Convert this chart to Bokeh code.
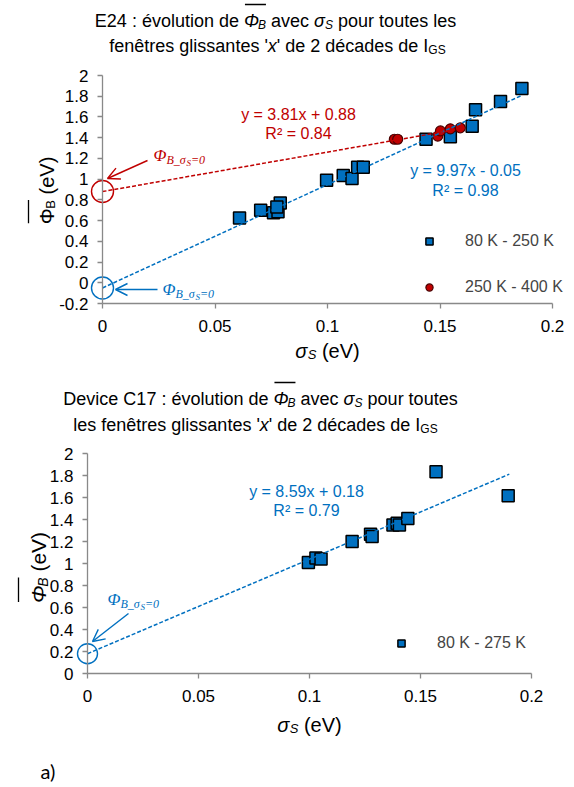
import math
from bokeh.plotting import figure
from bokeh.models import (Range1d, Label, Arrow, OpenHead, Legend, LegendItem,
                          FixedTicker, CustomJSTickFormatter)
from bokeh.layouts import column
from bokeh.embed import file_html
from bokeh.resources import INLINE

# ---------------- data ----------------
# E24, windows 80 K - 250 K
e24_low_sigma = [0.0609, 0.0703, 0.0760, 0.0780, 0.0790, 0.0775, 0.0996, 0.1070, 0.1109,
                 0.1134, 0.1159, 0.1438, 0.1546, 0.1643, 0.1658, 0.1769, 0.1864]
e24_low_phi = [0.625, 0.70, 0.675, 0.685, 0.77, 0.73, 0.99, 1.035, 1.005,
               1.115, 1.115, 1.385, 1.41, 1.51, 1.67, 1.75, 1.875]
# E24, windows 250 K - 400 K
e24_high_sigma = [0.1297, 0.1312, 0.1490, 0.1502, 0.1546, 0.1590]
e24_high_phi = [1.385, 1.385, 1.415, 1.465, 1.485, 1.495]
# Device C17, windows 80 K - 275 K
c17_sigma = [0.0995, 0.1029, 0.1052, 0.1192, 0.1275, 0.1282, 0.1376, 0.1395, 0.1405,
             0.1443, 0.1570, 0.1895]
c17_phi = [1.01, 1.05, 1.04, 1.20, 1.265, 1.245, 1.35, 1.365, 1.35,
           1.41, 1.835, 1.615]

# linear fits (as printed on the chart) and trendline extents
fit_low_slope, fit_low_icpt, fit_low_r2, fit_low_xmax = 9.97, -0.05, 0.98, 0.186
fit_high_slope, fit_high_icpt, fit_high_r2, fit_high_xmax = 3.81, 0.88, 0.84, 0.161
fit_c17_slope, fit_c17_icpt, fit_c17_r2, fit_c17_xmax = 8.59, 0.18, 0.79, 0.190

x_ticks = [0, 0.05, 0.1, 0.15, 0.2]
x_tick_labels = ["0", "0.05", "0.1", "0.15", "0.2"]
y1_ticks = [-0.2, 0, 0.2, 0.4, 0.6, 0.8, 1, 1.2, 1.4, 1.6, 1.8, 2]
y1_tick_labels = ["-0.2", "0", "0.2", "0.4", "0.6", "0.8", "1", "1.2", "1.4", "1.6", "1.8", "2"]
y2_ticks = [0, 0.2, 0.4, 0.6, 0.8, 1, 1.2, 1.4, 1.6, 1.8, 2]
y2_tick_labels = ["0", "0.2", "0.4", "0.6", "0.8", "1", "1.2", "1.4", "1.6", "1.8", "2"]

legend_low = "80 K - 250 K"
legend_high = "250 K - 400 K"
legend_c17 = "80 K - 275 K"

# ---------------- style / geometry ----------------
RED = "#C00000"
BLUE = "#0070C0"
AXIS = "#898989"
SANS = "Liberation Sans"
SERIF = "Liberation Serif"

W = 574
H1, H2 = 372, 415


class Geom:
    def __init__(self, left, right, top, bottom, yoff, H, xr, yr):
        self.left, self.right, self.top, self.bottom = left, right, top, bottom
        self.yoff, self.H, self.xr, self.yr = yoff, H, xr, yr
        self.kx = (right - left) / (xr[1] - xr[0])
        self.ky = (bottom - top) / (yr[1] - yr[0])
        self.x_range = (xr[0] - left / self.kx, xr[1] + (W - right) / self.kx)
        self.y_range = (yr[0] - (yoff + H - bottom) / self.ky, yr[1] + (top - yoff) / self.ky)

    def d(self, px, py):
        return (self.xr[0] + (px - self.left) / self.kx,
                self.yr[1] - (py - self.top) / self.ky)


G1 = Geom(102, 552, 75, 303, 0, H1, (0.0, 0.2), (-0.2, 2.0))
G2 = Geom(87, 531, 453, 673, H1, H2, (0.0, 0.2), (0.0, 2.0))

W_SANS = {' ': 278, '!': 278, "'": 191, '(': 333, ')': 333, '+': 584, '-': 333, '.': 278,
          ':': 278, '=': 584, '²': 333, 'Φ': 778, 'σ': 617,
          'A': 667, 'B': 667, 'C': 722, 'D': 722, 'E': 667, 'G': 778, 'I': 278, 'K': 667,
          'R': 722, 'S': 667, 'V': 667, 'a': 556, 'b': 556, 'c': 500, 'd': 556, 'e': 556,
          'f': 278, 'g': 556, 'h': 556, 'i': 222, 'j': 222, 'k': 500, 'l': 222, 'm': 833,
          'n': 556, 'o': 556, 'p': 556, 'q': 556, 'r': 333, 's': 500, 't': 278, 'u': 556,
          'v': 500, 'w': 722, 'x': 500, 'y': 500, 'z': 500, 'é': 556, 'ê': 556}
for _d in "0123456789":
    W_SANS[_d] = 556
W_SERIF_I = {'Φ': 763, 'B': 611, '_': 500, 'σ': 550, 'S': 500, '=': 675, '0': 500}

BASE_SHIFT = 4  # svg alphabetic baseline correction (px)


def tw(text, table, size):
    return sum(table.get(c, 556) for c in text) * size / 1000.0


def rich(p, G, segs, px, py, align="left", vertical=False, color="black", overlines=()):
    """segs: (text, table, font, size, style, dy); px,py = page position of baseline start"""
    tpx, tpy = (px - BASE_SHIFT, py) if vertical else (px, py - BASE_SHIFT)
    widths = [tw(s[0], s[1], s[3]) for s in segs]
    total = sum(widths)
    pos = {"left": 0.0, "center": -total / 2.0, "right": -total}[align]
    starts = []
    for (text, table, font, size, style, dy), w in zip(segs, widths):
        lead = len(text) - len(text.lstrip(" "))
        lead_w = tw(" " * lead, table, size)
        starts.append(pos + lead_w)
        if vertical:
            spx, spy = tpx + dy, tpy - (pos + lead_w)
        else:
            spx, spy = tpx + pos + lead_w, tpy + dy
        x, y = G.d(spx, spy)
        p.add_layout(Label(x=x, y=y, text=text.strip(" "), text_font=font,
                           text_font_size=f"{size}px", text_font_style=style,
                           text_color=color, text_align="left", text_baseline="alphabetic",
                           angle=(math.pi / 2 if vertical else 0.0)))
        pos += w
    for (i0, i1, rise) in overlines:
        a = starts[i0] + 1
        b = starts[i1] + tw(segs[i1][0].strip(), segs[i1][1], segs[i1][3])
        if vertical:
            x0, y0 = G.d(px - rise, py - a)
            x1, y1 = G.d(px - rise, py - b)
        else:
            x0, y0 = G.d(px + a, py - rise)
            x1, y1 = G.d(px + b, py - rise)
        p.add_layout(Arrow(start=None, end=None, x_start=x0, y_start=y0, x_end=x1, y_end=y1,
                           line_color=color, line_width=1.3))


def tick_formatter(vals, labs):
    return CustomJSTickFormatter(args=dict(vals=vals, labs=labs), code="""
        let best = 0, bd = 1e9;
        for (let i = 0; i < vals.length; i++) {
            const d = Math.abs(vals[i] - tick);
            if (d < bd) { bd = d; best = i; }
        }
        return labs[best];
    """)


def make_fig(G, yticks, ylabels):
    p = figure(width=W, height=G.H, x_range=Range1d(*G.x_range), y_range=Range1d(*G.y_range),
               output_backend="svg", toolbar_location=None, min_border=0,
               min_border_left=0, min_border_right=0, min_border_top=0, min_border_bottom=0)
    p.xgrid.visible = False
    p.ygrid.visible = False
    p.outline_line_color = None
    p.background_fill_color = "white"
    p.border_fill_color = "white"
    p.xaxis.ticker = FixedTicker(ticks=x_ticks)
    p.xaxis.formatter = tick_formatter(x_ticks, x_tick_labels)
    p.xaxis.fixed_location = G.yr[0]
    p.xaxis.bounds = G.xr
    p.yaxis.ticker = FixedTicker(ticks=yticks)
    p.yaxis.formatter = tick_formatter(yticks, ylabels)
    p.yaxis.fixed_location = G.xr[0]
    p.yaxis.bounds = G.yr
    for ax in (p.xaxis[0], p.yaxis[0]):
        ax.axis_line_color = AXIS
        ax.axis_line_width = 1.3
        ax.major_tick_line_color = AXIS
        ax.major_tick_line_width = 1.3
        ax.major_tick_out = 5
        ax.major_tick_in = 0
        ax.minor_tick_line_color = None
        ax.major_label_text_font = SANS
        ax.major_label_text_font_size = "17px"
        ax.major_label_text_color = "black"
    p.xaxis.major_label_standoff = 11
    p.yaxis.major_label_standoff = 9
    return p


def phi0_label(p, G, px, py, color):
    segs = [("Φ", W_SERIF_I, SERIF, 17, "italic", 0),
            ("B_σ", W_SERIF_I, SERIF, 12, "italic", 4),
            ("S", W_SERIF_I, SERIF, 9, "italic", 7),
            ("=0", W_SERIF_I, SERIF, 12, "italic", 4)]
    rich(p, G, segs, px, py, color=color)


def arrow_px(p, G, a, b, color):
    x0, y0 = G.d(*a)
    x1, y1 = G.d(*b)
    p.add_layout(Arrow(end=OpenHead(size=12, line_color=color, line_width=1.4),
                       x_start=x0, y_start=y0, x_end=x1, y_end=y1,
                       line_color=color, line_width=1.4))


def legend(items, G, glyph_cx, bottom_item_cy, spacing):
    return Legend(items=items, location=(glyph_cx - 9, (G.yoff + G.H) - (bottom_item_cy + 9)),
                  glyph_width=18, glyph_height=18, label_height=18,
                  spacing=spacing, label_standoff=27, padding=0, margin=0,
                  border_line_color=None, background_fill_alpha=0,
                  label_text_font=SANS, label_text_font_size="16px")


def sans(text, size=18, style="normal", dy=0):
    return (text, W_SANS, SANS, size, style, dy)


# ================= figure 1 : E24 =================
p1 = make_fig(G1, y1_ticks, y1_tick_labels)
r_low = p1.scatter(e24_low_sigma, e24_low_phi, marker="square", size=12,
                   fill_color=BLUE, line_color="black", line_width=1.5)
r_high = p1.scatter(e24_high_sigma, e24_high_phi, marker="circle", size=10,
                    fill_color=RED, line_color="#4a0000", line_width=1.2)
xl = [0.0, fit_low_xmax]
p1.line(xl, [fit_low_slope * v + fit_low_icpt for v in xl], line_color=BLUE,
        line_width=1.5, line_dash="4 2")
xh = [0.0, fit_high_xmax]
p1.line(xh, [fit_high_slope * v + fit_high_icpt for v in xh], line_color=RED,
        line_width=1.5, line_dash="4 2")
# circles around the extrapolated value at sigma_S = 0
p1.scatter([0.0], [fit_high_icpt], marker="circle", size=22, fill_alpha=0,
           line_color=RED, line_width=1.4)
p1.scatter([0.0], [fit_low_icpt], marker="circle", size=22, fill_alpha=0,
           line_color=BLUE, line_width=1.4)

p1.add_layout(legend([LegendItem(label=legend_low, renderers=[r_low]),
                      LegendItem(label=legend_high, renderers=[r_high])],
                     G1, 429, 287, 28))

for (txt, px, py, col) in [
        (f"y = {fit_high_slope:.2f}x + {fit_high_icpt:.2f}", 298, 114, RED),
        (f"R² = {fit_high_r2:.2f}", 298, 133, RED),
        (f"y = {fit_low_slope:.2f}x - {abs(fit_low_icpt):.2f}", 465, 170, BLUE),
        (f"R² = {fit_low_r2:.2f}", 465, 190, BLUE)]:
    x, y = G1.d(px, py)
    p1.add_layout(Label(x=x, y=y, text=txt, text_font=SANS, text_font_size="16px",
                        text_color=col, text_align="center", text_baseline="middle"))

arrow_px(p1, G1, (147, 160), (107, 178), RED)
arrow_px(p1, G1, (157, 289), (115, 289), BLUE)
phi0_label(p1, G1, 153, 159, RED)
phi0_label(p1, G1, 162, 293, BLUE)

t1 = [sans("E24 : évolution de "), sans("Φ", style="italic"), sans("B", 12, "italic", 4),
      sans(" avec "), sans("σ", style="italic"), sans("S", 12, "italic", 4),
      sans(" pour toutes les")]
rich(p1, G1, t1, 275, 24, align="center", overlines=[(1, 2, 20)])
t2 = [sans("fenêtres glissantes '"), sans("x", style="italic"),
      sans("' de 2 décades de I"), sans("GS", 12, "normal", 4)]
rich(p1, G1, t2, 277, 49, align="center")

ty1 = [sans("Φ", 20), sans("B", 13, "normal", 4), sans(" (eV)", 20)]
rich(p1, G1, ty1, 50, 190, align="center", vertical=True, overlines=[(0, 1, 22)])
tx1 = [sans("σ", 20, "italic"), sans("S", 13, "italic", 4), sans(" (eV)", 20)]
rich(p1, G1, tx1, 327, 354, align="center")

# ================= figure 2 : C17 =================
p2 = make_fig(G2, y2_ticks, y2_tick_labels)
r_c17 = p2.scatter(c17_sigma, c17_phi, marker="square", size=12,
                   fill_color=BLUE, line_color="black", line_width=1.5)
xc = [0.0, fit_c17_xmax]
p2.line(xc, [fit_c17_slope * v + fit_c17_icpt for v in xc], line_color=BLUE,
        line_width=1.5, line_dash="4 2")
p2.scatter([0.0], [fit_c17_icpt], marker="circle", size=20, fill_alpha=0,
           line_color=BLUE, line_width=1.4)

p2.add_layout(legend([LegendItem(label=legend_c17, renderers=[r_c17])], G2, 401, 643, 0))

for (txt, px, py) in [(f"y = {fit_c17_slope:.2f}x + {fit_c17_icpt:.2f}", 306, 491),
                      (f"R² = {fit_c17_r2:.2f}", 306, 510)]:
    x, y = G2.d(px, py)
    p2.add_layout(Label(x=x, y=y, text=txt, text_font=SANS, text_font_size="16px",
                        text_color=BLUE, text_align="center", text_baseline="middle"))

arrow_px(p2, G2, (128, 613), (92, 641), BLUE)
phi0_label(p2, G2, 107, 603, BLUE)

t3 = [sans("Device C17 : évolution de "), sans("Φ", style="italic"),
      sans("B", 12, "italic", 4), sans(" avec "), sans("σ", style="italic"),
      sans("S", 12, "italic", 4), sans(" pour toutes")]
rich(p2, G2, t3, 260, 402, align="center", overlines=[(1, 2, 20)])
t4 = [sans("les fenêtres glissantes '"), sans("x", style="italic"),
      sans("' de 2 décades de I"), sans("GS", 12, "normal", 4)]
rich(p2, G2, t4, 255, 428, align="center")

ty2 = [sans("Φ", 21, "italic"), sans("B", 14, "italic", 4), sans(" (eV)", 21)]
rich(p2, G2, ty2, 42, 567, align="center", vertical=True, overlines=[(0, 1, 24)])
tx2 = [sans("σ", 20, "italic"), sans("S", 13, "italic", 4), sans(" (eV)", 20)]
rich(p2, G2, tx2, 309, 728, align="center")

xa, ya = G2.d(40, 770)
p2.add_layout(Label(x=xa, y=ya, text="a)", text_font="Lato", text_font_size="20px",
                    text_color="black", text_align="left", text_baseline="alphabetic"))

layout = column(p1, p2, spacing=0)
open("out.html", "w").write(file_html(layout, INLINE))
